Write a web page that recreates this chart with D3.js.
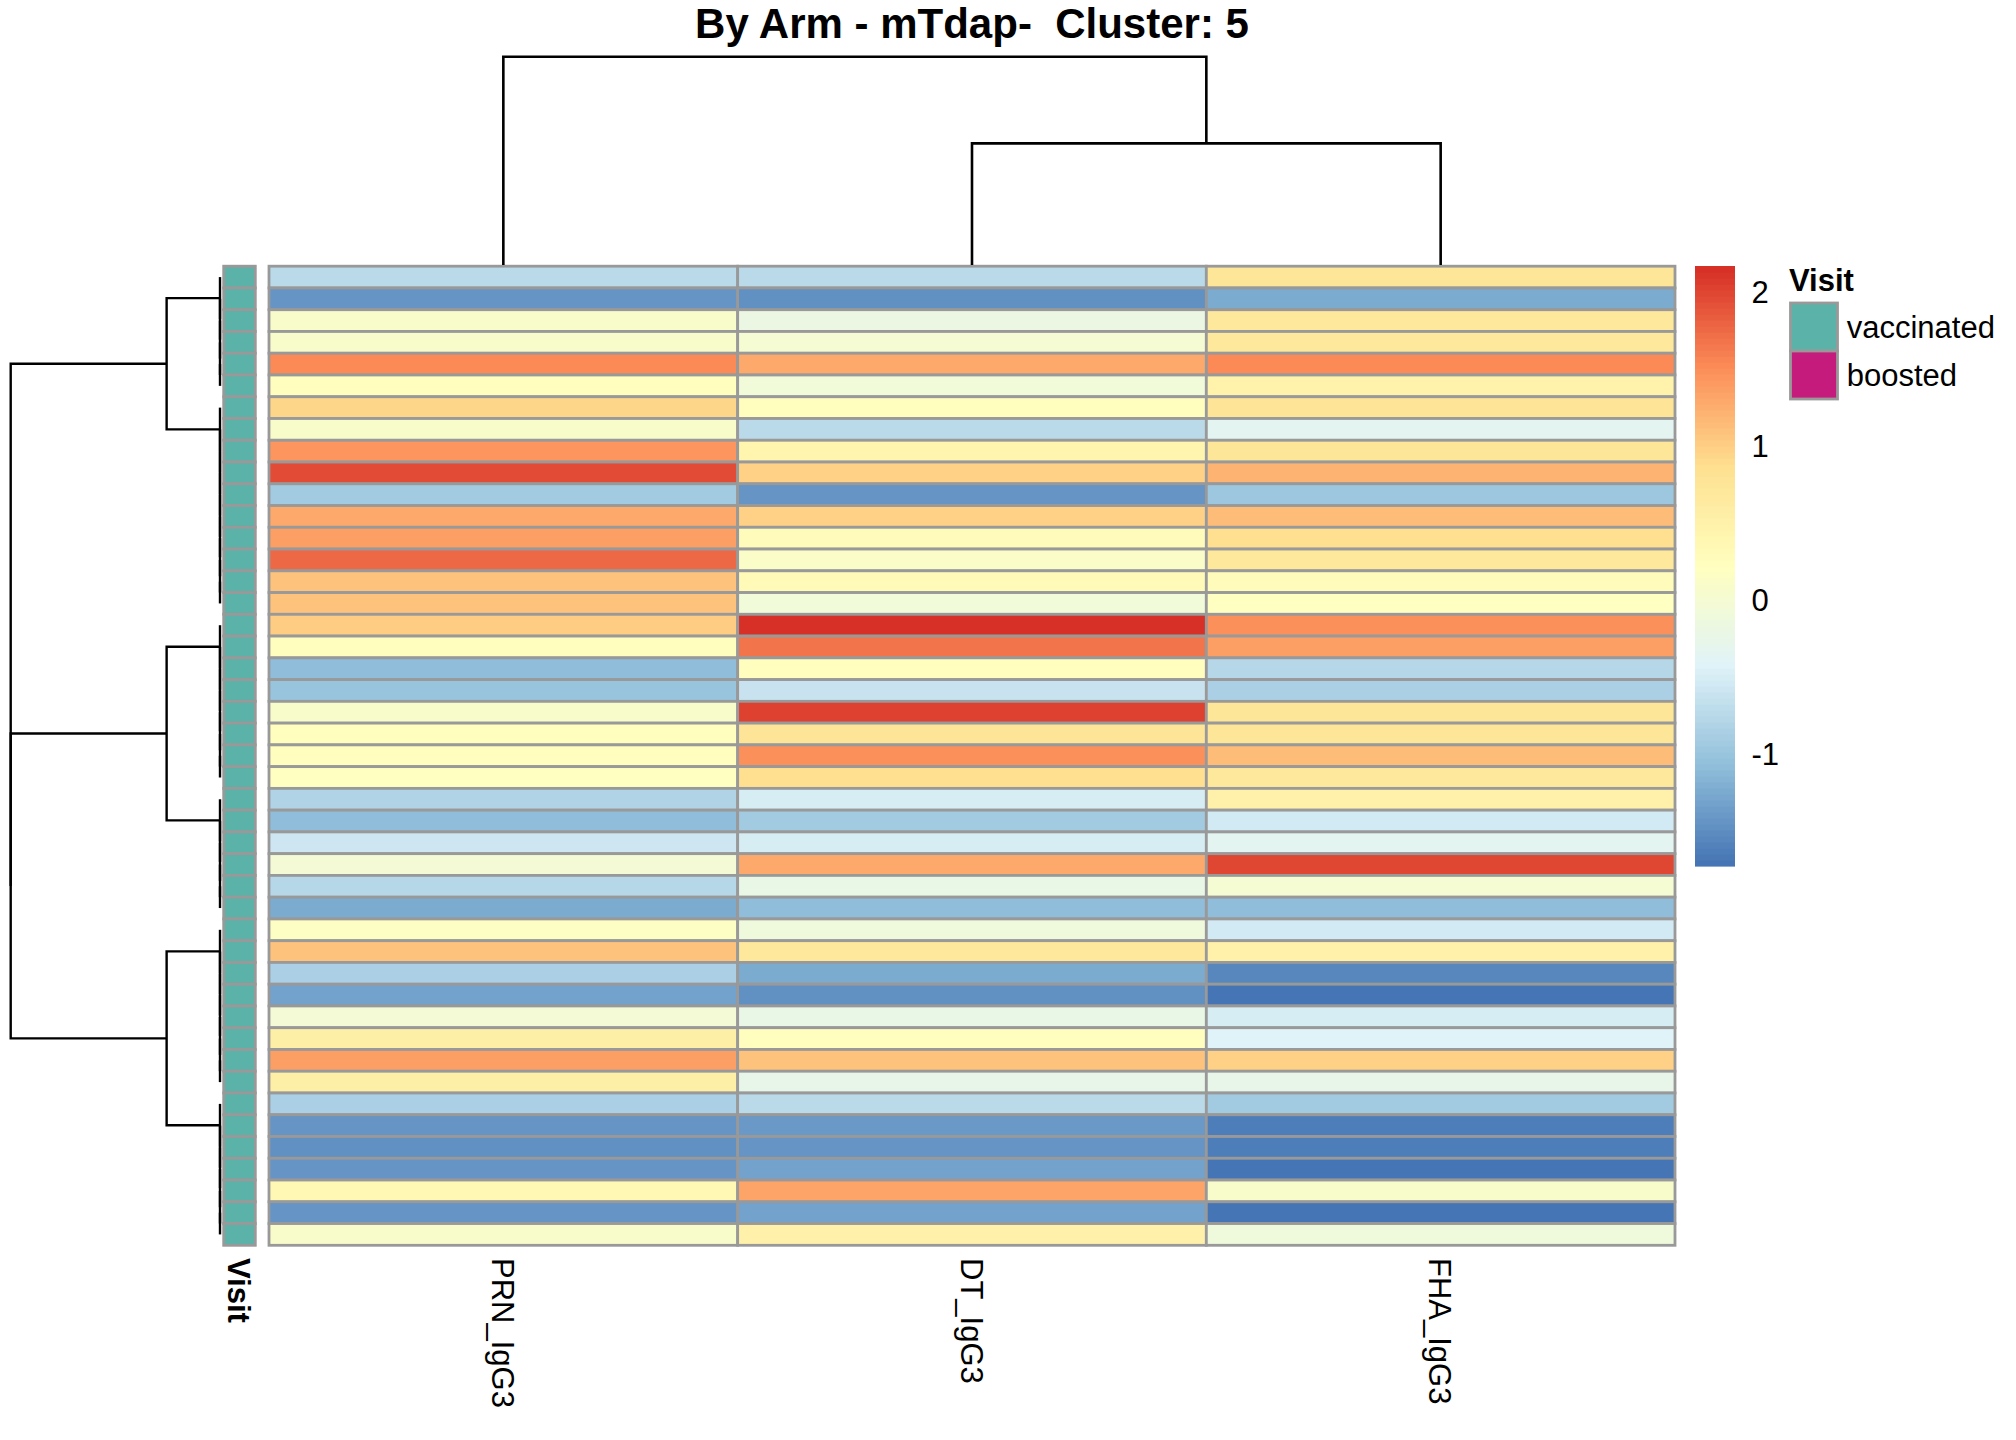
<!DOCTYPE html>
<html>
<head>
<meta charset="utf-8">
<script src="https://cdn.jsdelivr.net/npm/d3@7"></script>
<style>
  body { margin: 0; background: #fff; }
  text { font-family: "Liberation Sans", Arial, sans-serif; fill: #000; }
</style>
</head>
<body>
<svg id="chart" width="2016" height="1440"></svg>
<script>
// ---- data ----
const columns = ["PRN_IgG3", "DT_IgG3", "FHA_IgG3"];

const prn = [
  -0.75, -1.42, 0.10, 0.08, 1.52, 0.22, 0.95, 0.10, 1.45, 1.97,
  -0.93, 1.28, 1.36, 1.75, 1.10, 1.10, 1.02, 0.22, -1.10, -1.02,
  0.10, 0.22, 0.22, 0.20, -0.82, -1.10, -0.58, -0.05, -0.78, -1.23,
  0.18, 1.10, -0.87, -1.34, -0.05, 0.55, 1.38, 0.57, -0.87, -1.44,
  -1.46, -1.44, 0.35, -1.44, 0.10
];
const dt = [
  -0.75, -1.47, -0.20, 0.00, 1.28, -0.07, 0.25, -0.75, 0.42, 0.98,
  -1.42, 0.98, 0.28, 0.12, 0.33, -0.08, 2.17, 1.70, 0.22, -0.60,
  2.04, 0.80, 1.48, 0.85, -0.52, -0.93, -0.52, 1.28, -0.24, -1.10,
  -0.12, 0.72, -1.25, -1.47, -0.22, 0.22, 1.10, -0.26, -0.75, -1.38,
  -1.42, -1.34, 1.32, -1.34, 0.52
];
const fha = [
  0.75, -1.23, 0.72, 0.72, 1.52, 0.48, 0.78, -0.35, 0.75, 1.22,
  -0.97, 1.15, 0.85, 0.72, 0.28, 0.20, 1.48, 1.38, -0.78, -0.87,
  0.75, 0.75, 1.12, 0.70, 0.50, -0.55, -0.33, 2.00, 0.02, -1.07,
  -0.53, 0.50, -1.57, -1.72, -0.52, -0.42, 0.98, -0.27, -0.95, -1.65,
  -1.65, -1.72, 0.08, -1.73, -0.12
];

const visit = [
  "vaccinated", "vaccinated", "vaccinated", "vaccinated", "vaccinated",
  "vaccinated", "vaccinated", "vaccinated", "vaccinated", "vaccinated",
  "vaccinated", "vaccinated", "vaccinated", "vaccinated", "vaccinated",
  "vaccinated", "vaccinated", "vaccinated", "vaccinated", "vaccinated",
  "vaccinated", "vaccinated", "vaccinated", "vaccinated", "vaccinated",
  "vaccinated", "vaccinated", "vaccinated", "vaccinated", "vaccinated",
  "vaccinated", "vaccinated", "vaccinated", "vaccinated", "vaccinated",
  "vaccinated", "vaccinated", "vaccinated", "vaccinated", "vaccinated",
  "vaccinated", "vaccinated", "vaccinated", "vaccinated", "vaccinated"
];
const visitLevels = ["vaccinated", "boosted"];
const visitColors = ["#5BB2A8", "#C51B7D"];

const legendTicks = [-1, 0, 1, 2];
const heatColors = ["#4575B4", "#91BFDB", "#E0F3F8", "#FFFFBF", "#FEE090", "#FC8D59", "#D73027"];

// row clusters (consecutive rows), and tree of merges: [height, left, right]
const rowGroupSizes = [6, 10, 8, 6, 8, 7];
const rowTree = [1.0, [0.255, 0, 1], [1.0, [0.255, 2, 3], [0.255, 4, 5]]];
const colTree = [1.0, 0, [0.584, 1, 2]];

const title = "By Arm - mTdap-  Cluster: 5";

// ---- setup ----
const svg = d3.select("#chart");
svg.append("rect").attr("width", 2016).attr("height", 1440).attr("fill", "#fff");

const matrix = prn.map((v, i) => [v, dt[i], fha[i]]);
const nRows = matrix.length;

const x = d3.scaleBand().domain(d3.range(columns.length)).range([269, 1675]);
const y = d3.scaleBand().domain(d3.range(nRows)).range([266.2, 1245.3]);

const extent = d3.extent(matrix.flat());
const palette = d3.quantize(d3.piecewise(d3.interpolateRgb, heatColors), 100);
const color = d3.scaleQuantize().domain(extent).range(palette);
const visitColor = d3.scaleOrdinal().domain(visitLevels).range(visitColors);

// ---- heatmap cells ----
const cells = svg.append("g");
matrix.forEach((row, i) => {
  row.forEach((v, j) => {
    cells.append("rect")
      .attr("x", x(j))
      .attr("y", y(i))
      .attr("width", x.bandwidth())
      .attr("height", y.bandwidth())
      .attr("fill", color(v))
      .attr("stroke", "#999999")
      .attr("stroke-width", 2.8);
  });
});

// ---- annotation column ----
svg.append("g").selectAll("rect")
  .data(visit)
  .join("rect")
  .attr("x", 223.7)
  .attr("y", (d, i) => y(i))
  .attr("width", 31.6)
  .attr("height", y.bandwidth())
  .attr("fill", d => visitColor(d))
  .attr("stroke", "#999999")
  .attr("stroke-width", 2.8);

// ---- dendrograms ----
function chain(rows) {
  if (rows.length === 1) return { height: 0, leaf: rows[0] };
  return { height: 0, children: [{ height: 0, leaf: rows[0] }, chain(rows.slice(1))] };
}

function build(t, leafFn) {
  if (typeof t === "number") return leafFn(t);
  return { height: t[0], children: t.slice(1).map(c => build(c, leafFn)) };
}

function layout(treeObj, leafPos) {
  const root = d3.hierarchy(treeObj);
  root.eachAfter(n => {
    n.pos = n.children ? d3.mean(n.children, c => c.pos) : leafPos(n.data.leaf);
  });
  return root;
}

const groupStarts = [0, ...d3.cumsum(rowGroupSizes)];
const rowRoot = layout(
  build(rowTree, g => chain(d3.range(groupStarts[g], groupStarts[g + 1]))),
  r => y(r) + y.bandwidth() / 2
);
const colRoot = layout(
  build(colTree, c => ({ height: 0, leaf: c })),
  c => x(c) + x.bandwidth() / 2
);

const hx = d3.scaleLinear().domain([0, 1]).range([220, 10.7]);
const hy = d3.scaleLinear().domain([0, 1]).range([265, 56.7]);

svg.append("g").selectAll("path")
  .data(rowRoot.descendants().filter(n => n.children))
  .join("path")
  .attr("d", n => {
    const [a, b] = n.children;
    return `M${hx(a.data.height)},${a.pos}H${hx(n.data.height)}V${b.pos}H${hx(b.data.height)}`;
  })
  .attr("fill", "none")
  .attr("stroke", "#000")
  .attr("stroke-width", 2.4);

svg.append("g").selectAll("path")
  .data(colRoot.descendants().filter(n => n.children))
  .join("path")
  .attr("d", n => {
    const [a, b] = n.children;
    return `M${a.pos},${hy(a.data.height)}V${hy(n.data.height)}H${b.pos}V${hy(b.data.height)}`;
  })
  .attr("fill", "none")
  .attr("stroke", "#000")
  .attr("stroke-width", 2.6);

// ---- title ----
svg.append("text")
  .attr("x", (x.range()[0] + x.range()[1]) / 2)
  .attr("y", 38.3)
  .attr("text-anchor", "middle")
  .style("white-space", "pre")
  .style("font-weight", "bold")
  .style("font-size", "42px")
  .text(title);

// ---- column labels ----
svg.append("g").selectAll("text")
  .data(columns)
  .join("text")
  .attr("transform", (d, i) => `translate(${x(i) + x.bandwidth() / 2},1258) rotate(90)`)
  .attr("dy", "0.36em")
  .style("font-size", "31px")
  .text(d => d);

svg.append("text")
  .attr("transform", "translate(239.5,1258) rotate(90)")
  .attr("dy", "0.36em")
  .style("font-size", "31px")
  .style("font-weight", "bold")
  .text("Visit");

// ---- colour legend ----
const legendY = d3.scaleLinear().domain(extent).range([866, 266]);
const breaks = [extent[0], ...color.thresholds(), extent[1]];
svg.append("g").selectAll("rect")
  .data(palette)
  .join("rect")
  .attr("x", 1695)
  .attr("width", 40)
  .attr("y", (d, i) => legendY(breaks[i + 1]))
  .attr("height", (d, i) => legendY(breaks[i]) - legendY(breaks[i + 1]) + 0.6)
  .attr("fill", d => d);

svg.append("g").selectAll("text")
  .data(legendTicks)
  .join("text")
  .attr("x", 1751.5)
  .attr("y", d => legendY(d))
  .attr("dy", "0.36em")
  .style("font-size", "31px")
  .text(d => d);

// ---- annotation legend ----
const annLegend = svg.append("g");
annLegend.append("text")
  .attr("x", 1789)
  .attr("y", 290.7)
  .style("font-size", "31px")
  .style("font-weight", "bold")
  .text("Visit");

annLegend.selectAll("rect")
  .data(visitLevels)
  .join("rect")
  .attr("x", 1790.5)
  .attr("y", (d, i) => 303 + i * 48)
  .attr("width", 47)
  .attr("height", 48)
  .attr("fill", d => visitColor(d))
  .attr("stroke", "#999999")
  .attr("stroke-width", 2.8);

annLegend.selectAll("text.lab")
  .data(visitLevels)
  .join("text")
  .attr("class", "lab")
  .attr("x", 1846.7)
  .attr("y", (d, i) => 327 + i * 48)
  .attr("dy", "0.36em")
  .style("font-size", "31px")
  .text(d => d);
</script>
</body>
</html>
